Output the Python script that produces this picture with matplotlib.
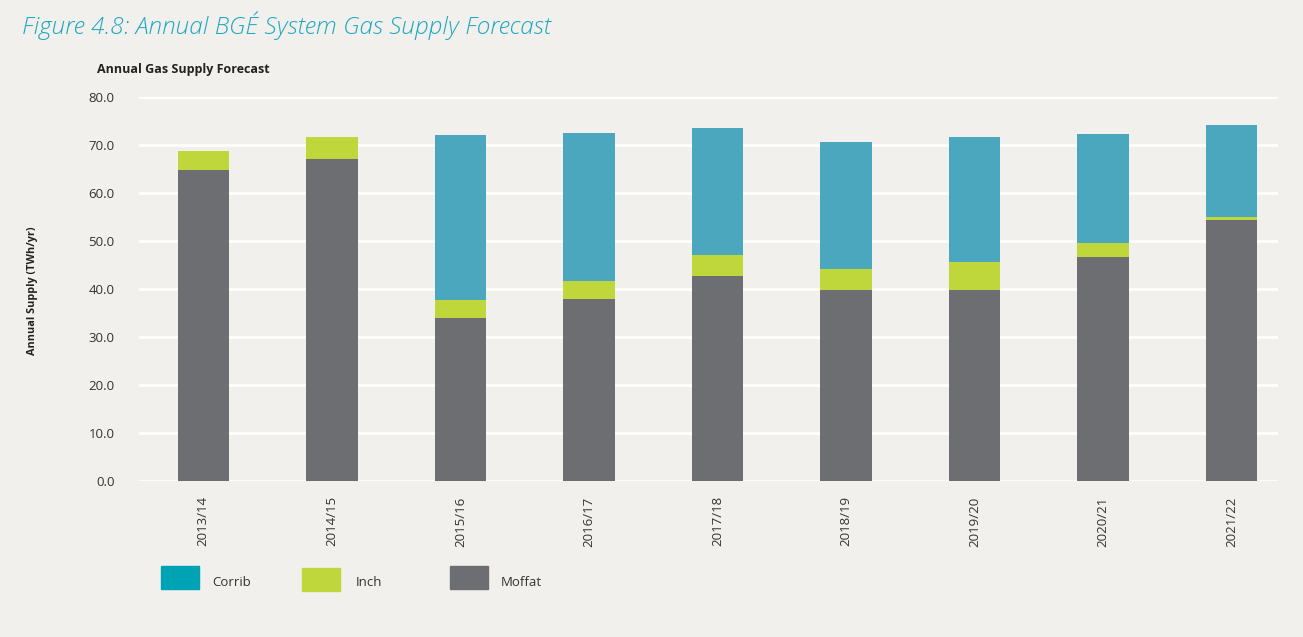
import numpy as np
import matplotlib.pyplot as plt
from matplotlib.patches import Rectangle

years = ["2013/14", "2014/15", "2015/16", "2016/17", "2017/18",
         "2018/19", "2019/20", "2020/21", "2021/22"]
moffat = [64.8, 67.1, 34.0, 37.9, 42.7, 39.8, 39.8, 46.7, 54.4]
inch = [3.9, 4.6, 3.7, 3.8, 4.4, 4.4, 5.8, 2.9, 0.6]
corrib = [0.0, 0.0, 34.4, 30.8, 26.4, 26.4, 26.1, 22.7, 19.2]

bg = "#f1f0ec"
c_moffat = "#6d6e72"
c_inch = "#c0d73c"
c_corrib = "#4ba7bd"
c_corrib_leg = "#00a3b4"
txt = "#333333"

plt.rcParams['font.family'] = ['Open Sans', 'DejaVu Sans']

fig = plt.figure(figsize=(13.03, 6.37), dpi=100, facecolor=bg)
W, H = 1303, 637
ax = fig.add_axes([139 / W, 1 - 481 / H, (1278 - 139) / W, (481 - 97) / H])
ax.set_facecolor(bg)

x = np.arange(len(years))
m = np.array(moffat)
i = np.array(inch)
c = np.array(corrib)
ax.bar(x, m, width=0.4, color=c_moffat, zorder=3)
ax.bar(x, i, width=0.4, bottom=m, color=c_inch, zorder=3)
ax.bar(x, c, width=0.4, bottom=m + i, color=c_corrib, zorder=3)

ax.set_ylim(0, 80)
ax.set_xlim(-0.5, 8.36)
ax.set_yticks(np.arange(0, 81, 10))
ax.set_yticklabels([f"{v:.1f}" for v in np.arange(0, 81, 10)])
ax.set_xticks(x)
ax.set_xticklabels(years, rotation=90)
ax.tick_params(axis='y', length=0, pad=17.5, labelsize=9.5, labelcolor=txt)
ax.tick_params(axis='x', length=0, pad=11, labelsize=9.5, labelcolor=txt)
for s in ax.spines.values():
    s.set_visible(False)
ax.grid(axis='y', color='white', linewidth=2, zorder=1)
ax.set_axisbelow(True)

fig.text(22 / W, 1 - 26 / H, "Figure 4.8: Annual BGÉ System Gas Supply Forecast",
         fontsize=17.6, style='italic', fontweight='light', color="#1ba8c1",
         va='center', ha='left')
fig.text(97 / W, 1 - 69 / H, "Annual Gas Supply Forecast", fontsize=9,
         fontweight='bold', color="#222222", va='center', ha='left')
fig.text(33 / W, 1 - 291 / H, "Annual Supply (TWh/yr)", fontsize=7.8,
         fontweight='bold', color="#222222", rotation=90, va='center', ha='center')

# legend
leg = [("Corrib", c_corrib_leg, 161, 566, 212),
       ("Inch", c_inch, 302, 568, 356),
       ("Moffat", c_moffat, 450, 566, 501)]
for name, col, px, py, tx in leg:
    fig.patches.append(Rectangle((px / W, 1 - (py + 23) / H), 38 / W, 23 / H,
                                 transform=fig.transFigure, color=col))
    fig.text(tx / W, 1 - 582 / H, name, fontsize=9.5, color=txt,
             va='center', ha='left')

fig.savefig("out.png", dpi=100, facecolor=bg)
